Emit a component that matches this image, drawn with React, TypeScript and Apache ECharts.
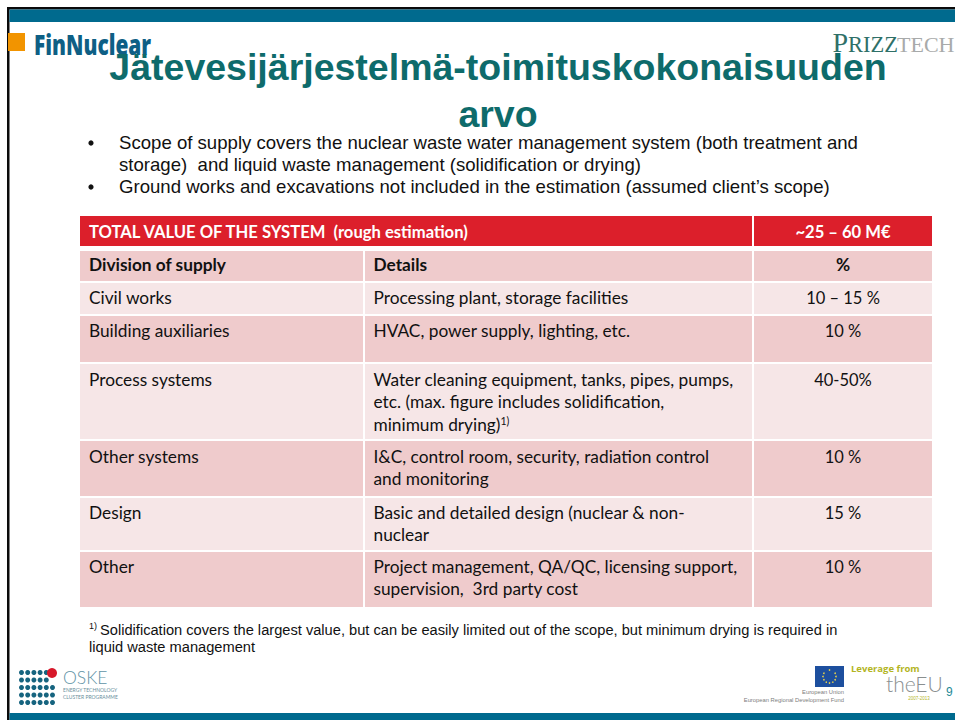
import React, { useEffect, useRef } from "react";
import * as echarts from "echarts";

const titleLines = ["Jätevesijärjestelmä-toimituskokonaisuuden", "arvo"];
const bulletLines = [
  "Scope of supply covers the nuclear waste water management system (both treatment and",
  "storage)  and liquid waste management (solidification or drying)",
  "Ground works and excavations not included in the estimation (assumed client’s scope)",
];
const totalLabel = "TOTAL VALUE OF THE SYSTEM  (rough estimation)";
const totalValue = "~25 – 60 M€";
const headers = ["Division of supply", "Details", "%"];
const divisions = ["Civil works", "Building auxiliaries", "Process systems", "Other systems", "Design", "Other"];
const details = [
  ["Processing plant, storage facilities"],
  ["HVAC, power supply, lighting, etc."],
  ["Water cleaning equipment, tanks, pipes, pumps,", "etc. (max. figure includes solidification,", "minimum drying){s|1)}"],
  ["I&C, control room, security, radiation control", "and monitoring"],
  ["Basic and detailed design (nuclear & non-", "nuclear"],
  ["Project management, QA/QC, licensing support,", "supervision,  3rd party cost"],
];
const shares = ["10 – 15 %", "10 %", "40-50%", "10 %", "15 %", "10 %"];
const footnote = ["Solidification covers the largest value, but can be easily limited out of the scope, but minimum drying is required in", "liquid waste management"];

const TEAL = "#006a8e";
const TITLE = "#0e6b6b";
const RED = "#dc1f2b";
const DARK = "#efcbcc";
const LIGHT = "#f6e6e7";
const INK = "#111111";
const TABLE_FONT = "Lato, 'Noto Sans', sans-serif";
const SANS = "'Liberation Sans', Arial, sans-serif";
const SERIF = "'Liberation Serif', serif";

const colX = [[80, 363], [365, 752], [754, 932]];
const rowY = [[283, 314], [316, 362], [364, 439], [441, 496], [498, 550], [552, 607]];
const textY = [297, 330, 379, 456, 512, 566];
const lineGap = 22.5;

function txt(x: number, y: number, text: string, font: string, size: number, fill: string, extra: any = {}, weight: any = "normal") {
  const { align, rich, ...rest } = extra;
  return {
    type: "text", x, y, silent: true, ...rest,
    style: { text, fontFamily: font, fontSize: size, fontWeight: weight, fill, textAlign: align || "left", textVerticalAlign: "middle", verticalAlign: "middle", rich },
  };
}
function rect(x: number, y: number, w: number, h: number, fill: string) {
  return { type: "rect", silent: true, shape: { x, y, width: w, height: h }, style: { fill } };
}
function dot(x: number, y: number, r: number, fill: string) {
  return { type: "circle", silent: true, shape: { cx: x, cy: y, r }, style: { fill } };
}

function buildElements() {
  const els: any[] = [];
  // frame
  els.push(rect(0, 0, 955, 720, "#ffffff"));
  els.push(rect(7, 7, 948, 2.5, "#0b0b0b"));
  els.push(rect(7, 7, 2.5, 713, "#0b0b0b"));
  els.push(rect(9.5, 9.5, 946, 12.5, TEAL));
  els.push(rect(9.5, 713, 946, 7, TEAL));
  els.push(rect(8, 33, 17, 18, "#f29400"));

  // logos at the top
  els.push(txt(34, 44, "FinNuclear", "'Open Sans', sans-serif", 29, "#0e5f85", { scaleX: 0.72 }, 800));
  els.push(txt(832.5, 42.7, "P", SERIF, 28, "#2f7068"));
  els.push(txt(848, 44.6, "RIZZ", SERIF, 22.5, "#2f7068"));
  els.push(txt(897, 44.6, "TECH", SERIF, 22, "#a8aaaa"));

  // title
  els.push(txt(498, 67, titleLines[0], SANS, 37.5, TITLE, { align: "center" }, "bold"));
  els.push(txt(498, 114, titleLines[1], SANS, 37.5, TITLE, { align: "center" }, "bold"));

  // bullets
  const bulletY = [142.5, 164.5, 186.5];
  bulletLines.forEach((l, i) => els.push(txt(119, bulletY[i], l, SANS, 18.6, INK)));
  els.push(dot(91, 143, 2.6, INK));
  els.push(dot(91, 187, 2.6, INK));

  // table
  els.push(rect(80, 216, 672, 30, RED));
  els.push(rect(754, 216, 178, 30, RED));
  els.push(txt(89, 231.5, totalLabel, TABLE_FONT, 16.6, "#ffffff", {}, "bold"));
  els.push(txt(843, 231.5, totalValue, TABLE_FONT, 16.6, "#ffffff", { align: "center" }, "bold"));
  colX.forEach(([a, b]) => els.push(rect(a, 251, b - a, 30, DARK)));
  els.push(txt(89, 264.5, headers[0], TABLE_FONT, 17.3, INK, {}, "bold"));
  els.push(txt(373.5, 264.5, headers[1], TABLE_FONT, 17.3, INK, {}, "bold"));
  els.push(txt(843, 264.5, headers[2], TABLE_FONT, 17.3, INK, { align: "center" }, "bold"));

  const sup = { s: { fontFamily: TABLE_FONT, fontSize: 10.5, fill: INK, verticalAlign: "top", padding: [0, 0, 7, 0] } };
  divisions.forEach((d, i) => {
    const fill = i % 2 === 0 ? LIGHT : DARK;
    colX.forEach(([a, b]) => els.push(rect(a, rowY[i][0], b - a, rowY[i][1] - rowY[i][0], fill)));
    els.push(txt(89, textY[i], d, TABLE_FONT, 17.3, INK));
    details[i].forEach((l, j) => els.push(txt(373.5, textY[i] + j * lineGap, l, TABLE_FONT, 17.3, INK, { rich: sup })));
    els.push(txt(843, textY[i] + 1, shares[i], TABLE_FONT, 16.5, INK, { align: "center" }));
  });

  // footnote
  els.push(txt(89, 626, "1)", SANS, 9, INK));
  els.push(txt(100, 630, footnote[0], SANS, 14.65, INK));
  els.push(txt(89, 647, footnote[1], SANS, 14.65, INK));

  // OSKE logo
  for (let r = 0; r < 5; r++) {
    for (let c = 0; c < 6; c++) {
      if (r < 2 && c === 5) continue;
      els.push(dot(21.5 + c * 6.2, 672.5 + r * 7.5, 2.5, "#16647f"));
    }
  }
  els.push(dot(52, 673, 5, "#d7182a"));
  els.push(txt(63, 677, "OSKE", "Lato, sans-serif", 17.5, "#5f93a6", {}, 300));
  els.push(txt(63, 689.5, "ENERGY TECHNOLOGY", "Lato, sans-serif", 5, "#6a8f9c"));
  els.push(txt(63, 697, "CLUSTER PROGRAMME", "Lato, sans-serif", 5, "#6a8f9c"));

  // EU logo
  els.push(rect(815, 666, 29, 21, "#1d4f9e"));
  for (let k = 0; k < 12; k++) {
    const t = (k * Math.PI) / 6;
    els.push(dot(829.5 + Math.cos(t) * 6.5, 676.5 + Math.sin(t) * 6.5, 0.8, "#e8d24a"));
  }
  els.push(txt(844, 692, "European Union", SANS, 5.8, "#7d7d7d", { align: "right" }));
  els.push(txt(844, 700, "European Regional Development Fund", SANS, 5.8, "#7d7d7d", { align: "right" }));
  els.push(txt(851, 668.5, "Leverage from", "'Open Sans', sans-serif", 9.5, "#b3b51f", {}, "bold"));
  els.push(txt(886, 683.5, "theEU", "Lato, sans-serif", 21, "#8a8f8f", {}, 300));
  els.push(txt(919, 698, "2007-2013", SANS, 4.5, "#b3b51f", { align: "center" }));
  els.push(txt(946, 692, "9", SANS, 12, "#1f8a96"));
  return els;
}

export default function App() {
  const ref = useRef<HTMLDivElement>(null);
  useEffect(() => {
    document.body.style.margin = "0";
    const chart = echarts.init(ref.current!, undefined, { renderer: "svg" });
    chart.setOption({ animation: false, graphic: { elements: buildElements() } });
    return () => chart.dispose();
  }, []);
  return <div ref={ref} style={{ width: 955, height: 720 }} />;
}
